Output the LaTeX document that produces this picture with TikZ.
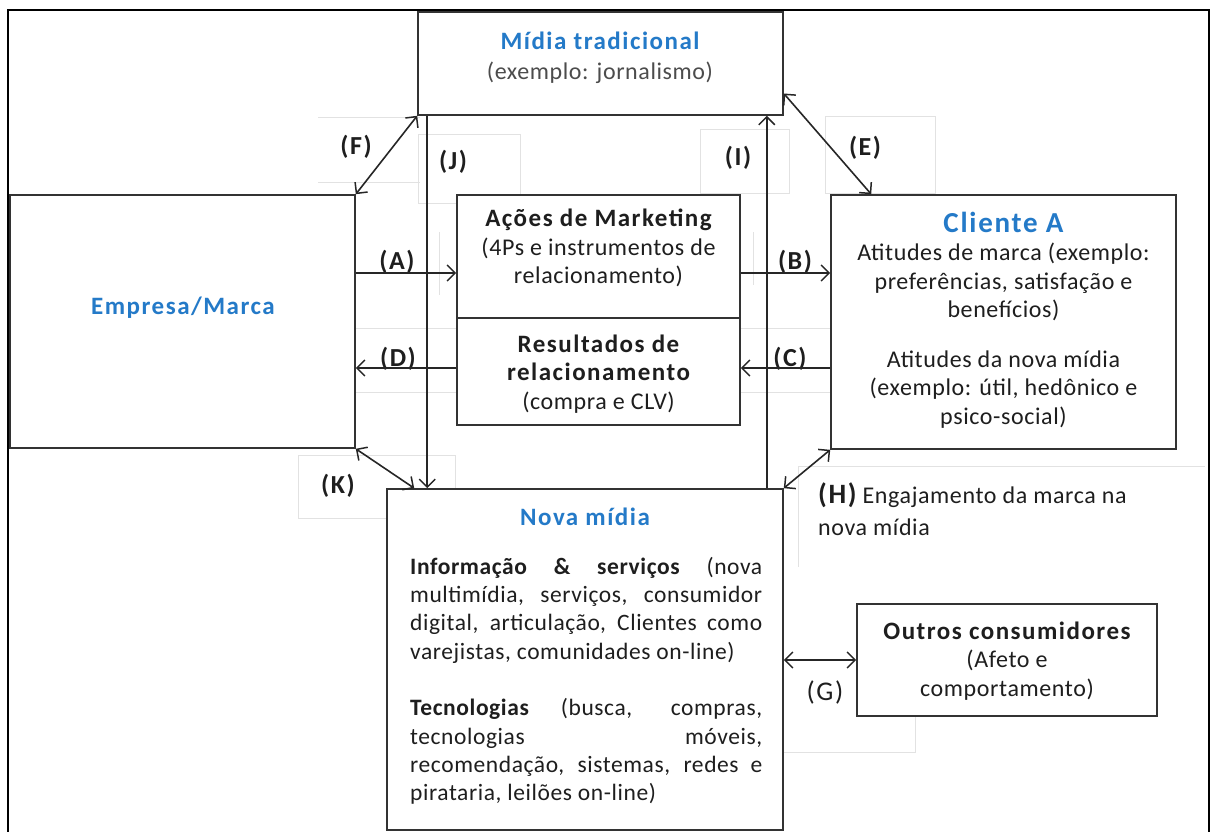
\documentclass[tikz,border=0pt]{standalone}
\usepackage{fontspec}
\setmainfont{Carlito}
\newfontfamily\ttlfont[LetterSpace=6]{Carlito}
\newfontfamily\bdyfont[LetterSpace=2.5]{Carlito}
\usetikzlibrary{arrows.meta,calc}
\definecolor{tblue}{RGB}{36,122,200}
\definecolor{txt}{RGB}{30,30,30}
\definecolor{faint}{RGB}{226,226,226}
\begin{document}
\begin{tikzpicture}[x=1pt,y=-1pt,
  box/.style={draw=black!80, line width=1.6pt, fill=white, inner sep=0pt},
  tip/.tip={Straight Barb[length=8pt,width=16pt,line width=1.5pt]},
  arr/.style={-tip, line width=1.6pt, black!85},
  darr/.style={tip-tip, line width=1.6pt, black!85},
  lbl/.style={font=\ttlfont\fontsize{26}{28}\selectfont\bfseries, text=txt, inner sep=0pt},
  body/.style={font=\bdyfont\fontsize{24}{28.5}\selectfont, text=txt, inner sep=0pt, align=center},
  ttl/.style={font=\ttlfont\fontsize{25}{29}\selectfont\bfseries, text=tblue, inner sep=0pt},
  fb/.style={draw=faint, line width=1pt}]
\useasboundingbox (0,0) rectangle (1213,832);
% faint text-box outlines
\draw[fb] (318,118) -- (420,118) (318,182) -- (420,182);
\draw[fb] (418,135) rectangle (520,203);
\draw[fb] (700,130) rectangle (789,193);
\draw[fb] (825,117) rectangle (935,193);
\draw[fb] (298,455) rectangle (455,518);
\draw[fb] (798,567) -- (798,466) -- (1205,466);
\draw[fb] (783,752) -- (915,752) -- (915,716);
\draw[fb] (355,328) -- (457,328) (355,392) -- (457,392);
\draw[fb] (740,328) -- (831,328) (740,392) -- (831,392);
\draw[fb] (439,232) -- (439,295);
\draw[fb] (753,232) -- (753,285);
% outer frame
\draw[line width=2.6pt, black] (8,832) -- (8,10) -- (1209,10) -- (1209,832);
% boxes
\node[box, minimum width=365pt, minimum height=103pt] (mid) at (600.5,63.5) {};
\node[box, minimum width=345pt, minimum height=253pt] (emp) at (182.5,321.5) {};
\node[box, minimum width=283pt, minimum height=123pt] (acoes) at (598.5,256.5) {};
\node[box, minimum width=283pt, minimum height=107pt] (res) at (598.5,371.5) {};
\node[box, minimum width=345pt, minimum height=254pt] (cli) at (1003.5,322) {};
\node[box, minimum width=396pt, minimum height=341pt] (nova) at (585,659.5) {};
\node[box, minimum width=300pt, minimum height=112pt] (outros) at (1007,660) {};
% texts
\node[ttl] (midT) at (600,41) {Mídia tradicional};
\node[body, text=black!70] (midS) at (600,73) {(exemplo: jornalismo)};
\node[ttl] (empT) at (183,308) {Empresa/Marca};
\node[body] (acoesT) at (598.5,248) {{\ttlfont\bfseries\fontsize{25}{28}\selectfont Ações de Marketing}\\(4Ps e instrumentos de\\relacionamento)};
\node[body] (resT) at (598.5,374) {{\ttlfont\bfseries\fontsize{25}{29}\selectfont Resultados de}\\{\ttlfont\bfseries\fontsize{25}{29}\selectfont relacionamento}\\(compra e CLV)};
\node[body] (cliT) at (1003.5,320) {{\color{tblue}\ttlfont\bfseries\fontsize{29}{31}\selectfont Cliente A}\\Atitudes de marca (exemplo:\\preferências, satisfação e\\benefícios)\\[21pt]Atitudes da nova mídia\\(exemplo: útil, hedônico e\\psico-social)};
\node[ttl] (novaT) at (585,517) {Nova mídia};
\node[body, font=\bdyfont\fontsize{23.5}{28.3}\selectfont, align=left, anchor=north west] (novaB) at (410,557) {%
\makebox[352pt][s]{\bfseries Informação \& serviços {\mdseries (nova}}\\
\makebox[352pt][s]{multimídia, serviços, consumidor}\\
\makebox[352pt][s]{digital, articulação, Clientes como}\\
varejistas, comunidades on-line)\\[28.3pt]
\makebox[352pt][s]{{\bfseries Tecnologias} (busca, compras,}\\
\makebox[352pt][s]{tecnologias móveis,}\\
\makebox[352pt][s]{recomendação, sistemas, redes e}\\
pirataria, leilões on-line)};
\node[body] (outrosT) at (1007,661) {{\ttlfont\bfseries\fontsize{25}{29}\selectfont Outros consumidores}\\(Afeto e\\comportamento)};
\node[body, align=left, anchor=north west] (hT) at (818,483) {{\ttlfont\bfseries\fontsize{28}{30}\selectfont (H)} Engajamento da marca na\\[3pt]nova mídia};
% connector labels
\node[lbl] (lF) at (356,147) {(F)};
\node[lbl] (lJ) at (453,162) {(J)};
\node[lbl] (lI) at (738,158) {(I)};
\node[lbl] (lE) at (865,148) {(E)};
\node[lbl] (lA) at (397,262) {(A)};
\node[lbl] (lB) at (795,262) {(B)};
\node[lbl] (lD) at (398,359) {(D)};
\node[lbl] (lC) at (790,359) {(C)};
\node[lbl] (lK) at (338,486) {(K)};
\node[body, font=\ttlfont\fontsize{27}{29}\selectfont] (lG) at (825,692) {(G)};
% connector anchor points
\coordinate (a2) at ([yshift=-16.5pt]acoes.west);
\coordinate (b1) at ([yshift=-16.5pt]acoes.east);
\coordinate (c1) at ([yshift=3.5pt]res.east);
\coordinate (d1) at ([yshift=3.5pt]res.west);
\coordinate (j1) at ([xshift=10pt]mid.south west);
\coordinate (i1) at ([xshift=-17pt]mid.south east);
\coordinate (e1) at ([yshift=-30pt]mid.east);
\coordinate (e2) at ([xshift=41pt]cli.north west);
\coordinate (k2) at ([xshift=28pt]nova.north west);
% connectors
\draw[arr] (a2 -| emp.east) -- (a2);
\draw[arr] (b1) -- (b1 -| cli.west);
\draw[arr] (c1 -| cli.west) -- (c1);
\draw[arr] (d1) -- (d1 -| emp.east);
\draw[arr] (j1) -- (j1 |- nova.north);
\draw[arr] (i1 |- nova.north) -- (i1);
\draw[darr] (emp.north east) -- (mid.south west);
\draw[darr] (e1) -- (e2);
\draw[darr] (emp.south east) -- (k2);
\draw[darr] (cli.south west) -- (nova.north east);
\draw[darr] (outros.west -| nova.east) -- (outros.west);
\end{tikzpicture}
\end{document}
